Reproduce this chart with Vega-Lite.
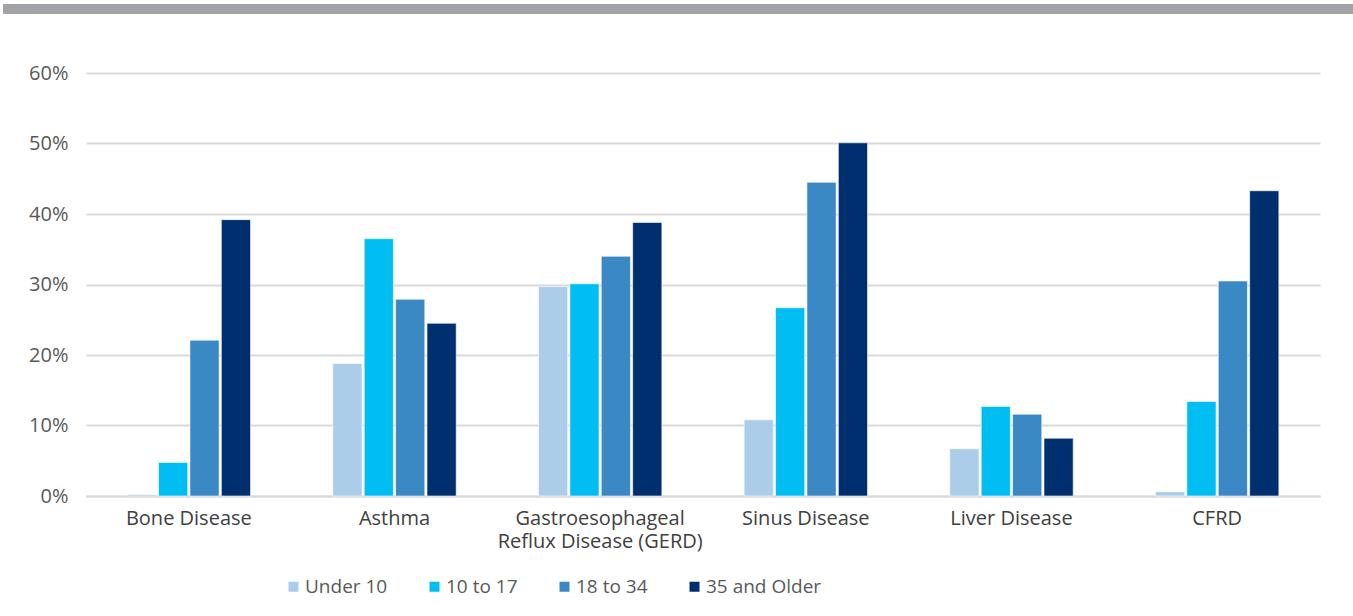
{
  "$schema": "https://vega.github.io/schema/vega-lite/v6.json",
  "padding": {"left": 3, "top": 4, "right": 0, "bottom": 0},
  "background": "white",
  "config": {
    "font": "Open Sans",
    "view": {"stroke": null},
    "concat": {"spacing": 49}
  },
  "datasets": {
    "bar": [{"k": 1}],
    "main": [
      {"condition": "Bone Disease", "age": "Under 10", "pct": 0.002},
      {"condition": "Bone Disease", "age": "10 to 17", "pct": 0.0475},
      {"condition": "Bone Disease", "age": "18 to 34", "pct": 0.221},
      {"condition": "Bone Disease", "age": "35 and Older", "pct": 0.392},
      {"condition": "Asthma", "age": "Under 10", "pct": 0.188},
      {"condition": "Asthma", "age": "10 to 17", "pct": 0.365},
      {"condition": "Asthma", "age": "18 to 34", "pct": 0.279},
      {"condition": "Asthma", "age": "35 and Older", "pct": 0.245},
      {"condition": "Gastroesophageal|Reflux Disease (GERD)", "age": "Under 10", "pct": 0.297},
      {"condition": "Gastroesophageal|Reflux Disease (GERD)", "age": "10 to 17", "pct": 0.301},
      {"condition": "Gastroesophageal|Reflux Disease (GERD)", "age": "18 to 34", "pct": 0.340},
      {"condition": "Gastroesophageal|Reflux Disease (GERD)", "age": "35 and Older", "pct": 0.388},
      {"condition": "Sinus Disease", "age": "Under 10", "pct": 0.108},
      {"condition": "Sinus Disease", "age": "10 to 17", "pct": 0.267},
      {"condition": "Sinus Disease", "age": "18 to 34", "pct": 0.445},
      {"condition": "Sinus Disease", "age": "35 and Older", "pct": 0.501},
      {"condition": "Liver Disease", "age": "Under 10", "pct": 0.067},
      {"condition": "Liver Disease", "age": "10 to 17", "pct": 0.127},
      {"condition": "Liver Disease", "age": "18 to 34", "pct": 0.116},
      {"condition": "Liver Disease", "age": "35 and Older", "pct": 0.082},
      {"condition": "CFRD", "age": "Under 10", "pct": 0.006},
      {"condition": "CFRD", "age": "10 to 17", "pct": 0.134},
      {"condition": "CFRD", "age": "18 to 34", "pct": 0.305},
      {"condition": "CFRD", "age": "35 and Older", "pct": 0.433}
    ]
  },
  "vconcat": [
    {
      "width": 1234,
      "height": 10,
      "data": {"name": "bar"},
      "mark": {"type": "rect", "color": "#A2A3A7"},
      "encoding": {
        "x": {"datum": 0, "type": "quantitative", "scale": {"domain": [0, 1], "range": [-83, 1267]}, "axis": null},
        "x2": {"datum": 1}
      }
    },
    {
      "width": 1234,
      "height": 423,
      "data": {"name": "main"},
      "mark": {"type": "bar", "stroke": "white", "strokeWidth": 0.6},
      "encoding": {
        "x": {
          "field": "condition",
          "type": "nominal",
          "sort": null,
          "scale": {"paddingInner": 0.4, "paddingOuter": 0.2},
          "axis": {
            "title": null,
            "labelAngle": 0,
            "labelExpr": "split(datum.label, '|')",
            "labelFontSize": 20,
            "labelColor": "#404040",
            "labelPadding": 12,
            "labelLineHeight": 23,
            "labelLimit": 400,
            "ticks": false,
            "domainColor": "#D9D9D9",
            "domainWidth": 2
          }
        },
        "xOffset": {
          "field": "age",
          "type": "nominal",
          "sort": ["Under 10", "10 to 17", "18 to 34", "35 and Older"],
          "scale": {"paddingInner": 0.07}
        },
        "y": {
          "field": "pct",
          "type": "quantitative",
          "scale": {"domain": [0, 0.6], "nice": false},
          "axis": {
            "title": null,
            "format": ".0%",
            "values": [0, 0.1, 0.2, 0.3, 0.4, 0.5, 0.6],
            "labelFontSize": 20,
            "labelColor": "#595959",
            "labelPadding": 18,
            "ticks": false,
            "domain": false,
            "gridColor": "#D9D9D9",
            "gridWidth": 2,
            "minExtent": 83
          }
        },
        "color": {
          "field": "age",
          "type": "nominal",
          "sort": ["Under 10", "10 to 17", "18 to 34", "35 and Older"],
          "scale": {
            "domain": ["Under 10", "10 to 17", "18 to 34", "35 and Older"],
            "range": ["#ABCDEA", "#00BEF2", "#3A88C4", "#002F6F"]
          },
          "legend": {
            "title": null,
            "orient": "none",
            "legendX": 198,
            "legendY": 573,
            "direction": "horizontal",
            "symbolType": "square",
            "symbolSize": 100,
            "symbolStrokeWidth": 0,
            "labelFontSize": 19,
            "labelColor": "#595959",
            "labelOffset": 2,
            "columnPadding": 37
          }
        }
      }
    }
  ]
}
